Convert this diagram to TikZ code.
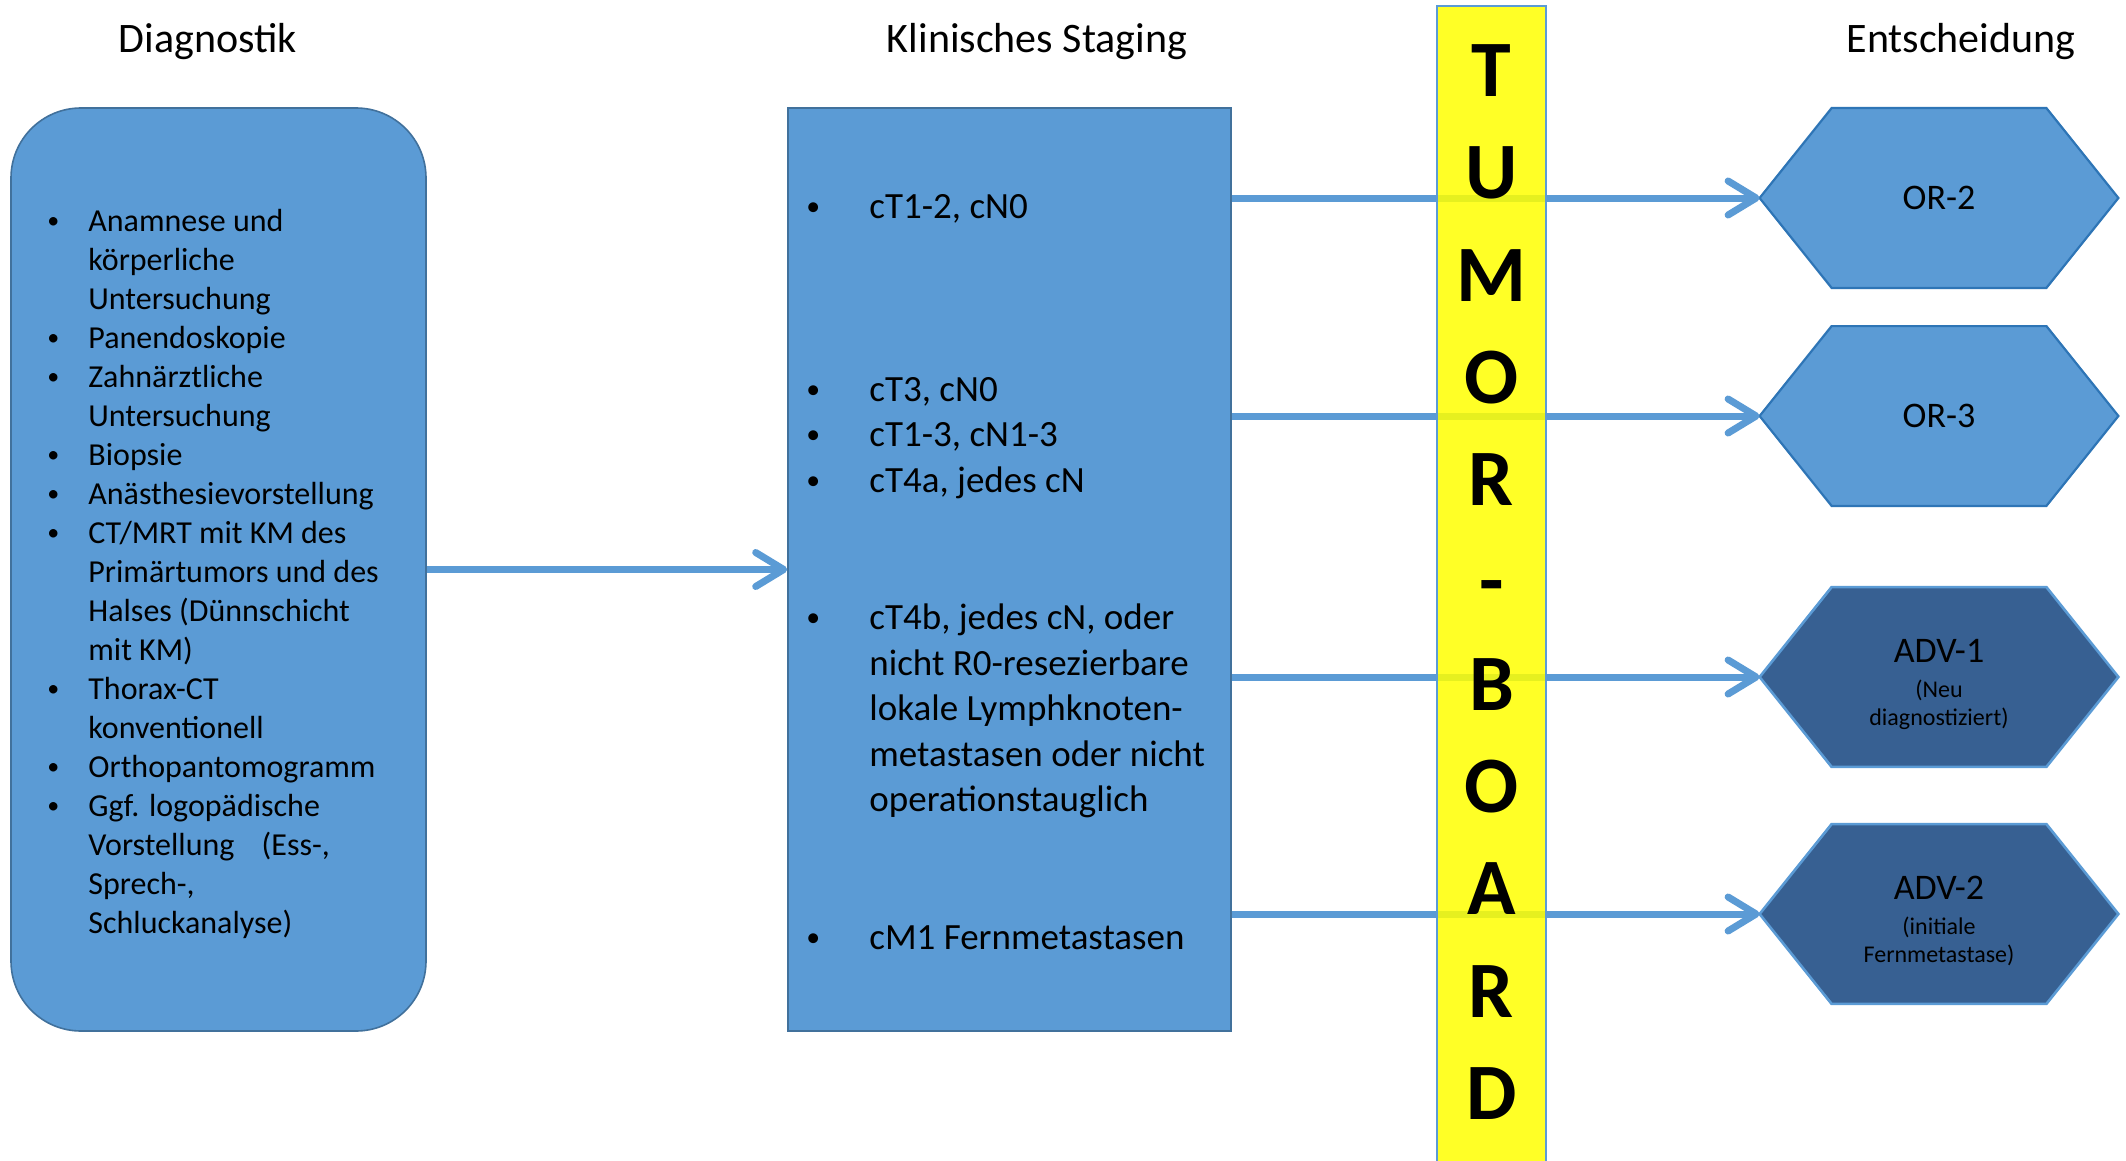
\documentclass[tikz,border=0pt]{standalone}
\usepackage{fontspec}
\usepackage{graphicx}
\setmainfont{Carlito}
\usetikzlibrary{arrows.meta,backgrounds}

\definecolor{boxblue}{HTML}{5B9BD5}
\definecolor{boxline}{HTML}{41719C}
\definecolor{hexline}{HTML}{2E75B6}
\definecolor{advblue}{HTML}{376092}
\definecolor{boardyellow}{HTML}{FFFF00}

% bullet and continuation indents for the two lists
\newcommand\smallbullet{\raisebox{0.08em}{\scalebox{0.75}{\textbullet}}}
\newcommand\dgb{\makebox[20.5pt][l]{\smallbullet}}
\newcommand\dgc{\hspace*{20.5pt}}
\newcommand\stb{\makebox[31.5pt][l]{\smallbullet}}
\newcommand\stc{\hspace*{31.5pt}}

% hexagon outline drawn behind a rectangular node of the same extent
\newcommand\hexagonbehind[2]{%
  \begin{pgfonlayer}{background}
    \path[#2] (#1.west) -- ([xshift=36pt]#1.north west) -- ([xshift=-36pt]#1.north east)
      -- (#1.east) -- ([xshift=-36pt]#1.south east) -- ([xshift=36pt]#1.south west) -- cycle;
  \end{pgfonlayer}}

\begin{document}
\begin{tikzpicture}[x=0.5pt,y=-0.5pt,
  title/.style={font=\fontsize{21pt}{25pt}\selectfont, inner sep=0},
  column/.style={fill=boxblue, draw=boxline, line width=0.8pt, inner sep=0},
  diaglist/.style={align=left, inner sep=0, anchor=west, font=\fontsize{16pt}{19.5pt}\selectfont},
  stagelist/.style={align=left, inner sep=0, anchor=west, font=\fontsize{18.5pt}{22.75pt}\selectfont},
  hexnode/.style={minimum width=179pt, minimum height=89.5pt, inner sep=0, align=center},
  hextext/.style={inner sep=0, align=center},
  orhex/.style={fill=boxblue, draw=hexline, line width=1.1pt},
  advhex/.style={fill=advblue, draw=boxblue, line width=1.3pt},
  flow/.style={draw=boxblue, line width=3.5pt, -{Straight Barb[length=14pt,width=17pt,round]}},
  boardbar/.style={draw=boxblue, line width=0.8pt, fill=boardyellow, fill opacity=0.85,
    minimum width=54.5pt, minimum height=580pt, inner sep=0},
  boardtext/.style={align=center, inner sep=0, font=\fontsize{40pt}{51.15pt}\selectfont\bfseries}
]
\begin{pgfonlayer}{background}
  \fill[white] (0,0) rectangle (2126,1161);
\end{pgfonlayer}
\useasboundingbox (0,0) rectangle (2126,1161);

% column headings
\node[title] (tdiag) at (208,42) {Diagnostik};
\node[title] (tstage) at (1037,42) {Klinisches Staging};
\node[title] (tdecide) at (1961,42) {Entscheidung};

% diagnostics column
\node[column, rounded corners=35pt, minimum width=207.5pt, minimum height=461.5pt] (diag) at (218.5,569.5) {};
\node[diaglist] (diagitems) at (47,574) {%
\dgb Anamnese und\\\dgc körperliche\\\dgc Untersuchung\\
\dgb Panendoskopie\\
\dgb Zahnärztliche\\\dgc Untersuchung\\
\dgb Biopsie\\
\dgb Anästhesievorstellung\\
\dgb CT/MRT mit KM des\\\dgc Primärtumors und des\\\dgc Halses (Dünnschicht\\\dgc mit KM)\\
\dgb Thorax-CT\\\dgc konventionell\\
\dgb Orthopantomogramm\\
\dgb Ggf. logopädische\\\dgc Vorstellung\hspace{10pt} (Ess-,\\\dgc Sprech-,\\\dgc Schluckanalyse)};

% staging column
\node[column, minimum width=221.5pt, minimum height=461.5pt] (stage) at (1009.5,569.5) {};
\node[stagelist] (st1) at (806,209) {\stb cT1-2, cN0};
\node[stagelist] (st2) at (806,438) {\stb cT3, cN0\\\stb cT1-3, cN1-3\\\stb cT4a, jedes cN};
\node[stagelist] (st3) at (806,711) {\stb cT4b, jedes cN, oder\\\stc nicht R0-resezierbare\\\stc lokale Lymphknoten-\\\stc metastasen oder nicht\\\stc operationstauglich};
\node[stagelist] (st4) at (806,938) {\stb cM1 Fernmetastasen};

% decisions
\node[hexnode, font=\fontsize{18pt}{22pt}\selectfont] (or2) at (1939,198) {OR-2};
\node[hexnode, font=\fontsize{18pt}{22pt}\selectfont] (or3) at (1939,416) {OR-3};
\node[hexnode] (adv1) at (1939,677) {};
\node[hexnode] (adv2) at (1939,914) {};
\node[hextext, font=\fontsize{12pt}{14pt}\selectfont] (adv1text) at (1939,684)
  {{\fontsize{18pt}{22pt}\selectfont ADV-1}\\[3.5pt](Neu\\diagnostiziert)};
\node[hextext, font=\fontsize{12pt}{14pt}\selectfont] (adv2text) at (1939,921)
  {{\fontsize{18pt}{22pt}\selectfont ADV-2}\\[3.5pt](initiale\\Fernmetastase)};
\hexagonbehind{or2}{orhex}
\hexagonbehind{or3}{orhex}
\hexagonbehind{adv1}{advhex}
\hexagonbehind{adv2}{advhex}

% connectors
\draw[flow] (diag.east) -- (stage.west);
\foreach \d in {or2,or3,adv1,adv2}
  \draw[flow] (stage.east |- \d.west) -- (\d.west);

% tumour board bar across the connectors
\node[boardbar] (board) at (1491.5,586) {};
\node[boardtext] (boardlabel) at (1491.5,582) {T\\U\\M\\O\\R\\-\\B\\O\\A\\R\\D};
\end{tikzpicture}
\end{document}
